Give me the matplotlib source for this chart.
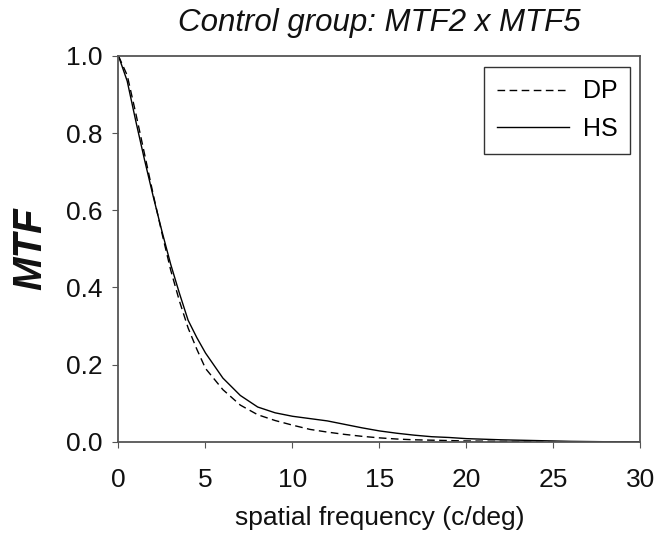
import matplotlib
matplotlib.use('Agg')
import matplotlib.pyplot as plt

# --- Data ---
freq_hs = [0, 0.5, 1, 1.5, 2, 2.5, 3, 3.5, 4, 4.5, 5, 6, 7, 8, 9, 10, 11, 12, 13, 14,
           15, 16, 17, 18, 19, 20, 22, 24, 26, 28, 30]
mtf_hs = [1.0, 0.935, 0.83, 0.73, 0.635, 0.545, 0.46, 0.385, 0.315, 0.27, 0.23, 0.165,
          0.12, 0.09, 0.075, 0.066, 0.06, 0.054, 0.045, 0.036, 0.028, 0.022, 0.017,
          0.013, 0.011, 0.008, 0.005, 0.003, 0.001, 0.0, 0.0]

freq_dp = [0, 0.5, 1, 1.5, 2, 2.5, 3, 3.5, 4, 4.5, 5, 6, 7, 8, 9, 10, 11, 12, 13, 14,
           15, 16, 17, 18, 20, 22, 25, 30]
mtf_dp = [1.0, 0.95, 0.85, 0.745, 0.64, 0.54, 0.445, 0.365, 0.295, 0.24, 0.19, 0.135,
          0.095, 0.07, 0.055, 0.043, 0.032, 0.025, 0.019, 0.014, 0.01, 0.007, 0.005,
          0.004, 0.002, 0.001, 0.0, 0.0]

x_ticks = [0, 5, 10, 15, 20, 25, 30]
y_ticks = [0.0, 0.2, 0.4, 0.6, 0.8, 1.0]

plt.rcParams['font.family'] = ['Liberation Sans', 'DejaVu Sans']

fig = plt.figure(figsize=(6.71, 5.42), dpi=100)
ax = fig.add_axes([0.1766, 0.185, 0.7779, 0.7117])

ax.plot(freq_dp, mtf_dp, color='black', lw=1.0, ls=(0, (5.5, 3.2)), label='DP')
ax.plot(freq_hs, mtf_hs, color='black', lw=1.0, label='HS')

ax.set_xlim(0, 30)
ax.set_ylim(0, 1)
ax.set_xticks(x_ticks)
ax.set_yticks(y_ticks)
ax.set_xticklabels([str(t) for t in x_ticks])
ax.set_yticklabels([f'{t:.1f}' for t in y_ticks])

for s in ax.spines.values():
    s.set_color('#555555')
    s.set_linewidth(1.3)
ax.tick_params(axis='x', direction='out', length=4, width=0.8, color='#555555',
               labelsize=19, pad=15, labelcolor='#111111')
ax.tick_params(axis='y', direction='out', length=4, width=0.8, color='#555555',
               labelsize=19, pad=7.5, labelcolor='#111111')

ax.set_title('Control group: MTF2 x MTF5', fontsize=22.5, style='italic', pad=18,
             color='#111111')
ax.set_xlabel('spatial frequency (c/deg)', fontsize=19, labelpad=10, color='#111111')
ax.set_ylabel('MTF', fontsize=29, style='italic', fontweight='bold', labelpad=12,
              color='#111111')

leg = ax.legend(loc='upper right', bbox_to_anchor=(0.98, 0.972), fontsize=18,
                fancybox=False, frameon=True, handlelength=2.9, handletextpad=0.55,
                borderpad=0.5, labelspacing=0.55, borderaxespad=0)
leg.get_frame().set_edgecolor('black')
leg.get_frame().set_linewidth(1.0)

fig.savefig('out.png', dpi=100)
